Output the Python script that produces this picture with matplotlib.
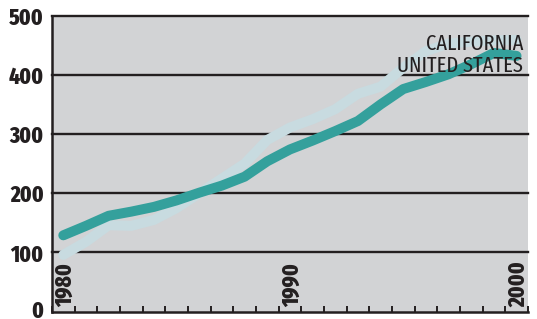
import matplotlib.pyplot as plt
from matplotlib import font_manager as fm

# data (values plotted at mid-year)
years = list(range(1980, 2001))
us = [129, 145, 162, 169, 177, 188, 201, 213, 228, 254, 274,
      289, 305, 322, 350, 376, 388, 401, 418, 437, 432]
california = [96, 118, 146, 145, 155, 175, 200, 225, 250, 290, 311,
              325, 342, 368, 380, 412, 440, 453, 456, 458, 459]
year_labels = ['1980', '1990', '2000']
y_ticks = [0, 100, 200, 300, 400, 500]


def cond_font(name, weight, size):
    hits = [f for f in fm.fontManager.ttflist
            if f.name == name and f.weight == weight and f.style == 'normal']
    if hits:
        return fm.FontProperties(fname=hits[0].fname, size=size)
    return fm.FontProperties(family='DejaVu Sans', stretch='condensed',
                             weight='bold' if weight >= 600 else 'normal', size=size * 0.9)


tick_font = cond_font('Fira Sans Extra Condensed', 800, 16.5)
key_font = cond_font('Fira Sans Extra Condensed', 400, 16)

bg = '#d2d3d5'
ink = '#231f20'
teal = '#34a09c'
light = '#c8dbe0'

fig = plt.figure(figsize=(5.37, 3.19), dpi=100)
ax = fig.add_axes([0.0968, 0.0229, 0.8862, 0.9281])
ax.set_facecolor(bg)
ax.set_xlim(1980, 2001)
ax.set_ylim(0, 500)

for v in y_ticks[1:]:
    ax.axhline(v, color=ink, lw=1.7, zorder=1, clip_on=False)

xs = [y + 0.5 for y in years]
ax.plot(xs, california, color=light, lw=7.2, solid_capstyle='round', solid_joinstyle='round', zorder=2)
ax.plot(xs, us, color=teal, lw=7.2, solid_capstyle='round', solid_joinstyle='round', zorder=3)

for s in ['top', 'right']:
    ax.spines[s].set_visible(False)
for s in ['left', 'bottom']:
    ax.spines[s].set_color(ink)
    ax.spines[s].set_linewidth(1.8)
    ax.spines[s].set_zorder(5)

ax.set_yticks(y_ticks)
# the "0" is drawn by hand below so it stays inside the canvas
ax.set_yticklabels([''] + [str(v) for v in y_ticks[1:]], fontproperties=tick_font, color=ink)
ax.tick_params(axis='y', length=0, pad=6)
ax.annotate(str(y_ticks[0]), (0, y_ticks[0]), xycoords=('axes fraction', 'data'),
            xytext=(-6, -4.5), textcoords='offset points', ha='right', va='baseline',
            fontproperties=tick_font, color=ink, annotation_clip=False)

ax.set_xticks(range(1980, 2002))
ax.set_xticklabels([])
ax.tick_params(axis='x', direction='in', length=4.3, width=1.4, color=ink)

for lab in year_labels:
    ax.annotate(lab, (int(lab), 0), xytext=(1.5, 3.5), textcoords='offset points',
                rotation=90, ha='left', va='bottom', fontproperties=tick_font,
                color=ink, zorder=6)

ax.text(0.99, 0.905, 'CALIFORNIA', transform=ax.transAxes, ha='right', va='center',
        fontproperties=key_font, color=ink, zorder=6)
ax.text(0.99, 0.83, 'UNITED STATES', transform=ax.transAxes, ha='right', va='center',
        fontproperties=key_font, color=ink, zorder=6)

fig.savefig('out.png', dpi=100)
